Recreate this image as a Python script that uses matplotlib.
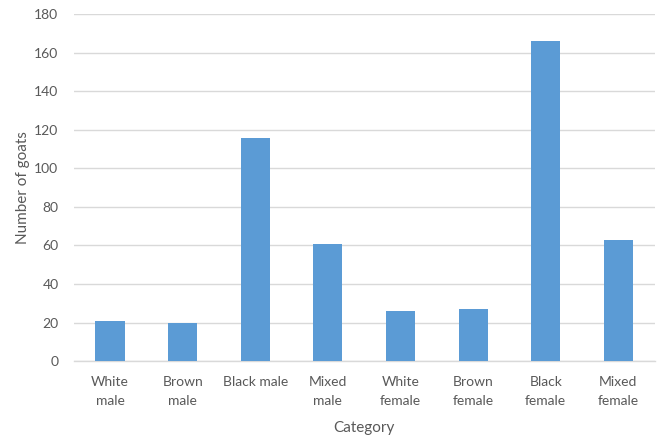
import numpy as np
import matplotlib
matplotlib.use('Agg')
import matplotlib.pyplot as plt

plt.rcParams['font.family'] = ['Lato', 'DejaVu Sans']

categories = ['White\nmale', 'Brown\nmale', 'Black male', 'Mixed\nmale',
              'White\nfemale', 'Brown\nfemale', 'Black\nfemale', 'Mixed\nfemale']
goats = [21, 20, 116, 61, 26, 27, 166, 63]

text_grey = '#595959'
grid_grey = '#d9d9d9'

fig = plt.figure(figsize=(6.64, 4.41), dpi=100)
ax = fig.add_axes([0.111, 0.181, 0.875, 0.787])

x = np.arange(len(categories))
ax.bar(x, goats, width=0.4, color='#5b9bd5', zorder=3)

ax.set_xlim(-0.5, len(categories) - 0.5)
ax.set_ylim(0, 180)
ax.set_yticks(range(0, 181, 20))
ax.set_xticks(x)
ax.set_xticklabels(categories, linespacing=1.7)

ax.grid(axis='y', color=grid_grey, linewidth=1, zorder=0)
for side in ['top', 'right', 'left']:
    ax.spines[side].set_visible(False)
ax.spines['bottom'].set_color(grid_grey)
ax.spines['bottom'].set_linewidth(1)

ax.tick_params(axis='both', length=0, labelsize=10, labelcolor=text_grey)
ax.tick_params(axis='x', pad=11)
ax.tick_params(axis='y', pad=11)

ax.set_xlabel('Category', fontsize=11, color=text_grey, labelpad=10)
ax.set_ylabel('Number of goats', fontsize=11, color=text_grey, labelpad=3)

fig.savefig('out.png', dpi=100)
